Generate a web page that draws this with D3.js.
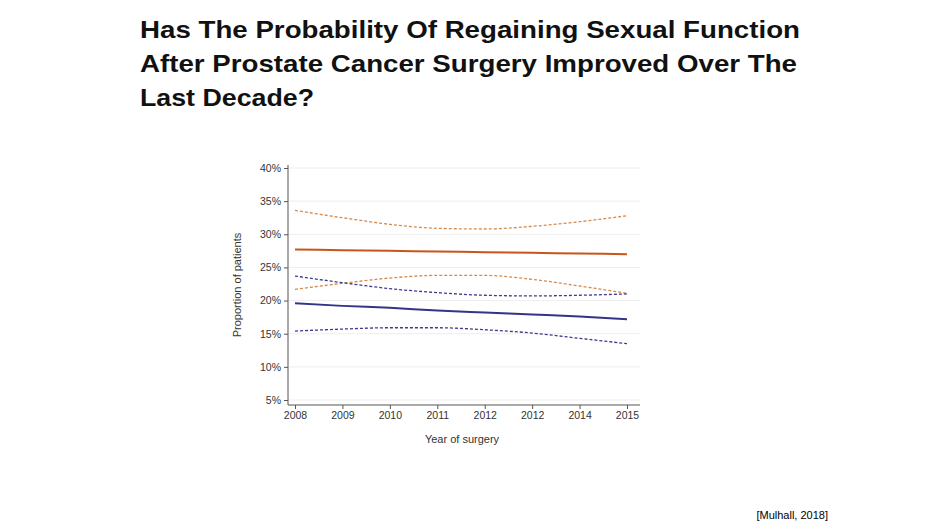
<!DOCTYPE html><html><head><meta charset="utf-8"><script src="https://cdn.jsdelivr.net/npm/d3@7"></script>
<style>body{margin:0;background:#fff}svg{font-family:"Liberation Sans",Arial,sans-serif}</style></head><body><svg id="c" width="950" height="529"></svg>
<script>
const xLabels=["2008","2009","2010","2011","2012","2012","2014","2015"];
const yTicks=[5,10,15,20,25,30,35,40];
const orangeMid=[27.7,27.6,27.5,27.4,27.3,27.2,27.1,27.0];
const orangeHi=[33.6,32.5,31.5,30.9,30.8,31.2,31.9,32.8];
const orangeLo=[21.7,22.6,23.4,23.8,23.8,23.2,22.2,21.1];
const blueMid=[19.6,19.2,18.9,18.5,18.2,17.9,17.6,17.2];
const blueHi=[23.7,22.7,21.8,21.2,20.8,20.7,20.8,21.0];
const blueLo=[15.4,15.7,15.9,15.9,15.6,15.1,14.3,13.5];
const svg=d3.select("#c");
const title=["Has The Probability Of Regaining Sexual Function","After Prostate Cancer Surgery Improved Over The","Last Decade?"];
const titleW=[660,657,174];
svg.selectAll("text.t").data(title).join("text").attr("x",140).attr("y",(d,i)=>38+i*34)
 .attr("font-size",24).attr("font-weight","bold").attr("fill","#111")
 .attr("textLength",(d,i)=>titleW[i]).attr("lengthAdjust","spacingAndGlyphs").text(d=>d);
svg.append("text").attr("x",828).attr("y",519).attr("text-anchor","end").attr("font-size",11).text("[Mulhall, 2018]");
const x=d3.scaleLinear().domain([0,7]).range([295,627]);
const y=d3.scaleLinear().domain([5,40]).range([400,168]);
const g=svg.append("g");
g.selectAll("line.g").data(yTicks).join("line").attr("x1",289).attr("x2",640).attr("y1",d=>y(d)).attr("y2",d=>y(d)).attr("stroke","#eee").attr("stroke-width",1);
const ya=g.append("g").attr("transform","translate(288,0)").call(d3.axisLeft(y).tickValues(yTicks).tickFormat(d=>d+"%").tickSize(4));
ya.select(".domain").attr("d","M0,165V405");
const xa=g.append("g").attr("transform","translate(0,405)").call(d3.axisBottom(x).tickValues(d3.range(8)).tickFormat(i=>xLabels[i]).tickSize(4));
xa.select(".domain").attr("d","M288,0H640");
g.selectAll(".tick text").attr("font-size",10.5).attr("fill","#333");
g.selectAll(".domain,.tick line").attr("stroke","#555");
const line=d3.line().x((d,i)=>x(i)).y(d=>y(d)).curve(d3.curveMonotoneX);
const series=[[orangeHi,"#d98a4a",1.3,"3,2"],[orangeLo,"#d98a4a",1.3,"3,2"],[blueHi,"#3c3a8c",1.3,"3,2"],[blueLo,"#3c3a8c",1.3,"3,2"],[orangeMid,"#c8561a",2,null],[blueMid,"#36338a",2,null]];
series.forEach(s=>g.append("path").attr("d",line(s[0])).attr("fill","none").attr("stroke",s[1]).attr("stroke-width",s[2]).attr("stroke-dasharray",s[3]));
svg.append("text").attr("transform","translate(241,285) rotate(-90)").attr("text-anchor","middle").attr("font-size",11).attr("fill","#333").text("Proportion of patients");
svg.append("text").attr("x",462).attr("y",443).attr("text-anchor","middle").attr("font-size",11).attr("fill","#333").text("Year of surgery");
</script></body></html>
